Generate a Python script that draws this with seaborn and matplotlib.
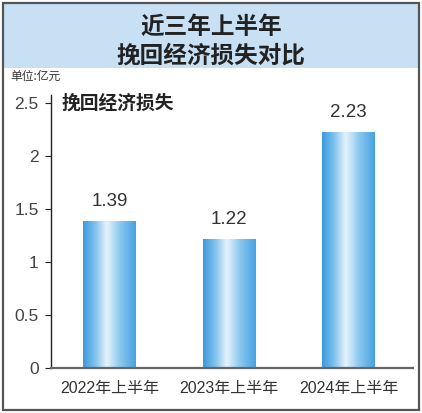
import numpy as np
import pandas as pd
import matplotlib
matplotlib.use("Agg")
import matplotlib.pyplot as plt
from matplotlib.colors import LinearSegmentedColormap
from matplotlib.patches import Rectangle
import seaborn as sns

# data
periods = ["2022年上半年", "2023年上半年", "2024年上半年"]
recovered = [1.39, 1.22, 2.23]
y_ticks = [0, 0.5, 1, 1.5, 2, 2.5]
y_tick_labels = ["0", "0.5", "1", "1.5", "2", "2.5"]

title_lines = ["近三年上半年", "挽回经济损失对比"]
unit_text = "单位:亿元"
series_name = "挽回经济损失"

sns.set_theme(style="white")
plt.rcParams["font.family"] = ["Noto Sans CJK SC", "DejaVu Sans"]
latin = ["Liberation Sans", "Noto Sans CJK SC"]

W, H = 422, 413
fig = plt.figure(figsize=(W / 100, H / 100), dpi=100)
fig.patch.set_facecolor("white")


def px_box(x0, y0, x1, y1):
    """pixel box (top-left origin) -> figure fraction rect"""
    return [x0 / W, 1 - y1 / H, (x1 - x0) / W, (y1 - y0) / H]


# title band + outer frame
band = px_box(4, 4, 418, 68)
fig.patches.append(Rectangle((band[0], band[1]), band[2], band[3], transform=fig.transFigure,
                             facecolor="#c8e0f3", edgecolor="none", zorder=0))
frame = px_box(3, 3, 419, 410)
fig.patches.append(Rectangle((frame[0], frame[1]), frame[2], frame[3], transform=fig.transFigure,
                             facecolor="none", edgecolor="#555555", linewidth=1.6, zorder=5))

fig.text(0.5, 1 - 27 / H, title_lines[0], ha="center", va="center",
         fontsize=17, fontweight="bold", color="#222222")
fig.text(0.5, 1 - 56 / H, title_lines[1], ha="center", va="center",
         fontsize=17, fontweight="bold", color="#222222")
fig.text(10 / W, 1 - 76 / H, unit_text, ha="left", va="center",
         fontsize=8.5, color="#333333")

ax = fig.add_axes(px_box(51, 95, 413, 368))
df = pd.DataFrame({"period": periods, "value": recovered})
sns.barplot(data=df, x="period", y="value", ax=ax, width=0.44,
            color="#4aa5e0", saturation=1)

ax.set_xlim(-0.49, 2.54)
ax.set_ylim(0, 2.58)

# cylinder-like horizontal gradient on each bar
grad = LinearSegmentedColormap.from_list(
    "cyl", [(0, "#3a9ade"), (0.22, "#7cbfed"), (0.45, "#e6f3fc"),
            (0.7, "#8bc8ef"), (1, "#44a2e2")])
g = np.linspace(0, 1, 256).reshape(1, -1)
for bar in ax.patches:
    x0, y0 = bar.get_x(), bar.get_y()
    w, h = bar.get_width(), bar.get_height()
    im = ax.imshow(g, cmap=grad, aspect="auto", extent=(x0, x0 + w, y0, y0 + h),
                   zorder=2, interpolation="bicubic")
    im.set_clip_path(bar)
    bar.set_facecolor("none")
    bar.set_edgecolor("none")
    ax.text(x0 + w / 2, y0 + h + 0.1, f"{h:.2f}", ha="center", va="bottom",
            fontsize=13.5, color="#333333", family=latin)

ax.set_xlim(-0.49, 2.54)
ax.set_ylim(0, 2.58)

ax.set_yticks(y_ticks)
ax.set_yticklabels(y_tick_labels)
ax.tick_params(axis="y", direction="out", length=4, width=0.8, color="#222222",
               labelsize=12.5, labelcolor="#444444", pad=5, left=True)
ax.tick_params(axis="x", length=0, labelsize=11.5, labelcolor="#333333", pad=9)
for lab in ax.get_yticklabels() + ax.get_xticklabels():
    lab.set_family(latin)

ax.set_xlabel("")
ax.set_ylabel("")
for side in ["top", "right"]:
    ax.spines[side].set_visible(False)
ax.spines["left"].set_color("#222222")
ax.spines["left"].set_linewidth(1.0)
ax.spines["bottom"].set_color("#666666")
ax.spines["bottom"].set_linewidth(1.6)

ax.text(0.03, 2.5, series_name, ha="left", va="center", fontsize=13.5,
        fontweight="bold", color="#222222", transform=ax.get_yaxis_transform())

fig.savefig("out.png", dpi=100)
